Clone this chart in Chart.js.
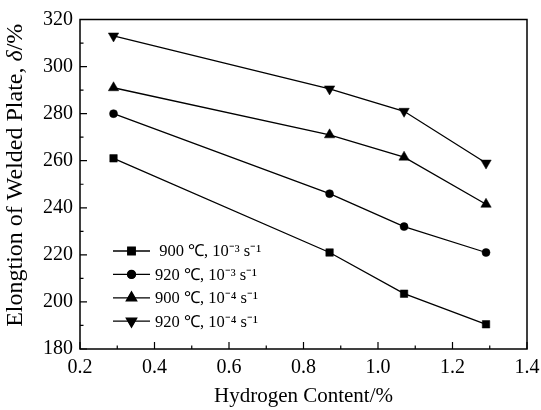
<!DOCTYPE html>
<html>
<head>
<meta charset="utf-8">
<script src="https://cdn.jsdelivr.net/npm/chart.js@4/dist/chart.umd.min.js"></script>
<style>
  html, body { margin: 0; padding: 0; background: #fff; }
  #wrap { width: 541px; height: 410px; }
</style>
</head>
<body>
<div id="wrap"><canvas id="grafico"></canvas></div>
<script>
// contenido de hidrógeno (%)
const hidrogeno = [0.29, 0.87, 1.07, 1.29];

// elongación de la placa soldada (%)
const s900_3 = [261, 221, 203.5, 190.5];
const s920_3 = [280, 246, 232, 221];
const s900_4 = [291, 271, 261.5, 241.5];
const s920_4 = [313, 290.5, 281, 259];

const etiquetas = [' 900 ℃, 10⁻³ s⁻¹', '920 ℃, 10⁻³ s⁻¹', '900 ℃, 10⁻⁴ s⁻¹', '920 ℃, 10⁻⁴ s⁻¹'];
const marcadores = ['rect', 'circle', 'triangle', 'triangle'];
const rotaciones = [0, 0, 0, 180];
const radios = [5.3, 4, 6, 6];

const yTicks = [180, 200, 220, 240, 260, 280, 300, 320];
const xTicks = [0.2, 0.4, 0.6, 0.8, 1.0, 1.2, 1.4];

// título del eje y: partes normal / cursiva / normal
const tituloY = ['Elongtion of Welded Plate, ', 'δ', '/%'];

const FUENTE = '"Liberation Serif", "Times New Roman", serif';

function serie(valores, i) {
    return {
        label: etiquetas[i],
        data: hidrogeno.map((x, k) => ({ x: x, y: valores[k] })),
        borderColor: '#000',
        backgroundColor: '#000',
        borderWidth: 1.3,
        pointStyle: marcadores[i],
        rotation: rotaciones[i],
        pointRadius: radios[i],
        pointHoverRadius: radios[i],
        pointBorderWidth: 0.5,
        showLine: true,
        tension: 0
    };
}

//* marco, marcas hacia dentro, título del eje y y leyenda dibujada a mano
const marcoPlugin = {
    id: 'marco',
    afterDraw(chart) {
        const ctx = chart.ctx;
        const a = chart.chartArea;
        const xs = chart.scales.x;
        const ys = chart.scales.y;
        ctx.save();
        ctx.strokeStyle = '#000';
        ctx.lineWidth = 1.5;
        ctx.strokeRect(a.left, a.top, a.right - a.left, a.bottom - a.top);

        ctx.lineWidth = 1.2;
        ctx.beginPath();
        for (let v = 180; v <= 320; v += 10) {
            const py = ys.getPixelForValue(v);
            const largo = v % 20 === 0 ? 7 : 3.5;
            ctx.moveTo(a.left, py);
            ctx.lineTo(a.left + largo, py);
        }
        for (let k = 2; k <= 14; k++) {
            const px = xs.getPixelForValue(k / 10);
            const largo = k % 2 === 0 ? 7 : 3.5;
            ctx.moveTo(px, a.bottom);
            ctx.lineTo(px, a.bottom - largo);
        }
        ctx.stroke();

        // título del eje y, girado
        ctx.save();
        ctx.fillStyle = '#000';
        ctx.textBaseline = 'alphabetic';
        ctx.textAlign = 'left';
        const fuentes = ['24px ' + FUENTE, 'italic 24px ' + FUENTE, '24px ' + FUENTE];
        let total = 0;
        tituloY.forEach((t, i) => { ctx.font = fuentes[i]; total += ctx.measureText(t).width; });
        ctx.translate(22, (a.top + a.bottom) / 2 - 9 + total / 2);
        ctx.rotate(-Math.PI / 2);
        let dx = 0;
        tituloY.forEach((t, i) => {
            ctx.font = fuentes[i];
            ctx.fillText(t, dx, 0);
            dx += ctx.measureText(t).width;
        });
        ctx.restore();

        // leyenda
        ctx.font = '16.5px ' + FUENTE;
        ctx.fillStyle = '#000';
        ctx.textBaseline = 'middle';
        chart.data.datasets.forEach((ds, i) => {
            const y = 251 + i * 23.4;
            ctx.lineWidth = 1.3;
            ctx.beginPath();
            ctx.moveTo(113, y);
            ctx.lineTo(150, y);
            ctx.stroke();
            Chart.helpers.drawPoint(ctx, {
                pointStyle: ds.pointStyle,
                rotation: ds.rotation,
                radius: ds.pointRadius,
                borderWidth: 0.5
            }, 131.5, y);
            ctx.fill();
            ctx.fillText(ds.label, 155, y + 1);
        });
        ctx.restore();
    }
};

const lienzo = document.getElementById('grafico').getContext('2d');

new Chart(lienzo, {
    type: 'scatter',
    data: {
        datasets: [
            serie(s900_3, 0),
            serie(s920_3, 1),
            serie(s900_4, 2),
            serie(s920_4, 3)
        ]
    },
    options: {
        responsive: true,
        maintainAspectRatio: false,
        animation: false,
        layout: { padding: { left: 0, top: 19.5, right: 14, bottom: 0 } },
        plugins: {
            legend: { display: false },
            tooltip: { enabled: false }
        },
        scales: {
            x: {
                type: 'linear',
                min: 0.2,
                max: 1.4,
                afterBuildTicks: s => { s.ticks = xTicks.map(v => ({ value: v })); },
                afterFit: s => { s.height = 61; s.paddingLeft = 0; s.paddingRight = 0; },
                grid: { display: false, drawTicks: false },
                border: { display: false },
                ticks: {
                    color: '#000',
                    font: { family: FUENTE, size: 20 },
                    padding: 7,
                    maxRotation: 0,
                    callback: v => v.toFixed(1)
                },
                title: {
                    display: true,
                    text: 'Hydrogen Content/%',
                    color: '#000',
                    font: { family: FUENTE, size: 21 },
                    padding: { top: 0, bottom: 1 }
                }
            },
            y: {
                min: 180,
                max: 320,
                afterBuildTicks: s => { s.ticks = yTicks.map(v => ({ value: v })); },
                afterFit: s => { s.width = 80; s.paddingTop = 0; s.paddingBottom = 0; },
                grid: { display: false, drawTicks: false },
                border: { display: false },
                ticks: {
                    color: '#000',
                    font: { family: FUENTE, size: 20 },
                    padding: 7
                },
                title: { display: false }
            }
        }
    },
    plugins: [marcoPlugin]
});
</script>
</body>
</html>
